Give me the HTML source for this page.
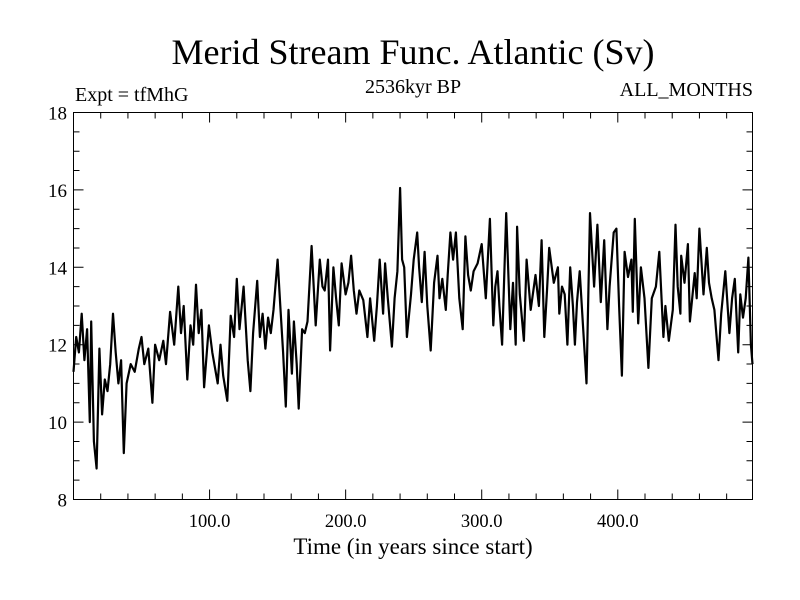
<!DOCTYPE html>
<html><head><meta charset="utf-8"><style>
body{margin:0;background:#fff;}
svg{display:block;font-family:"Liberation Serif",serif;}
</style></head><body>
<svg id="c" width="800" height="600">
<rect width="800" height="600" fill="#fff"/>
<text x="413" y="64" font-size="36" text-anchor="middle">Merid Stream Func. Atlantic (Sv)</text>
<text x="75" y="101" font-size="20">Expt = tfMhG</text>
<text x="413" y="93" font-size="20" text-anchor="middle">2536kyr BP</text>
<text x="753" y="96" font-size="20" text-anchor="end">ALL_MONTHS</text>
<text x="413" y="554" font-size="23" text-anchor="middle">Time (in years since start)</text>
<g id="ax"></g>
<g id="series"></g>
</svg>
<script>
const years=[0,2,4,6,8,10,12,13,15,17,19,21,23,25,27,29,31,33,35,37,39,42,45,48,50,52,55,58,60,63,66,68,71,74,77,79,81,83.6,86,88,90,92,94,96,99.5,102,106,108,110,113,115.5,118,120,122,125,128,130,132,135,137,139,141,143,145,147,150,152,154,156,158,160.5,162,164,165.5,168,170,172,175,178,181,183,184.6,187,188.6,191,193,195,197,200,202,204,206,208,210,213,216,218,221,223,225,227.5,229,231,234,236,238,240,241.5,243,245,248,250,252.6,254,256,258,260,262.5,265,267.5,269,271,273.6,275,277,279,281,283.5,286,288,290,292,294,297,300,303,306,308.5,310,311.6,313,315,318,321,323,325,326,328,331,333,336,339.5,342,344,346,348,349.6,353,356,357,359,361,363,365,367,368.5,370,372,374.6,377,379.6,382.6,385,387.5,390,392.4,394,397,399,401,403,405,407.5,410,411,412.5,415,417,419.6,422.5,425,428,430.5,433.5,435,437.5,440.4,442.4,444,446,446.6,449,451.5,453,456.5,458,460,463,465.4,467,469,471,474,476,479,482,484,486,488.5,490,492,494,496,497.8,499];
const values=[11.3,12.2,11.8,12.8,11.6,12.4,10.0,12.6,9.5,8.8,11.9,10.2,11.1,10.8,11.5,12.8,11.8,11.0,11.6,9.2,11.0,11.5,11.3,11.9,12.2,11.5,11.9,10.5,12.0,11.6,12.1,11.5,12.85,12.0,13.5,12.3,13.0,11.1,12.5,12.0,13.55,12.3,12.9,10.9,12.5,11.8,11.0,12.0,11.2,10.55,12.75,12.2,13.7,12.4,13.5,11.6,10.8,12.3,13.65,12.2,12.8,11.9,12.7,12.3,12.9,14.2,13.0,11.8,10.4,12.9,11.25,12.6,11.5,10.35,12.4,12.3,12.6,14.55,12.5,14.2,13.5,13.4,14.2,11.85,14.0,13.2,12.5,14.1,13.3,13.6,14.3,13.4,12.8,13.4,13.15,12.2,13.2,12.1,13.0,14.2,12.8,14.1,13.2,11.95,13.2,13.9,16.05,14.2,14.0,12.2,13.3,14.2,14.9,14.0,13.1,14.4,13.0,11.85,13.6,14.3,13.2,13.7,12.9,13.8,14.9,14.2,14.9,13.2,12.4,14.8,13.8,13.4,13.9,14.1,14.6,13.2,15.25,12.5,13.5,13.9,13.0,12.0,15.4,12.4,13.6,12.0,15.05,13.3,12.1,14.2,12.9,13.8,13.0,14.7,12.2,13.4,14.5,13.6,14.0,12.8,13.5,13.3,12.0,14.0,13.0,12.0,13.1,13.9,12.4,11.0,15.4,13.5,15.1,13.1,14.7,12.4,13.5,14.9,15.0,13.0,11.2,14.4,13.75,14.2,12.85,15.25,12.55,14.0,13.2,11.4,13.2,13.5,14.4,12.2,13.0,12.1,12.9,15.1,13.5,12.8,14.3,13.6,14.6,12.6,13.85,13.2,15.0,13.3,14.5,13.6,13.2,12.9,11.6,12.8,13.9,12.3,13.2,13.7,11.8,13.3,12.7,13.2,14.25,12.0,11.5];
const yTicks=[8,10,12,14,16,18];
const xTicks=[100,200,300,400];
const xTickLabels=["100.0","200.0","300.0","400.0"];
const X0=73.5,X1=752.5,Y0=499.5,Y1=112.5,XMIN=0,XMAX=499,YMIN=8,YMAX=18;
const sx=v=>X0+(v-XMIN)/(XMAX-XMIN)*(X1-X0);
const sy=v=>Y0-(v-YMIN)/(YMAX-YMIN)*(Y0-Y1);
const NS='http://www.w3.org/2000/svg';
const ax=document.getElementById('ax');
function mk(t,a,p){const e=document.createElementNS(NS,t);for(const k in a)e.setAttribute(k,a[k]);p.appendChild(e);return e;}
const frame=mk('rect',{x:X0,y:Y1,width:X1-X0,height:Y0-Y1,fill:'none',stroke:'#000','stroke-width':1},ax);


let d='';
for(let v=8;v<=18.001;v+=0.5){const y=sy(v);const L=(Math.abs(v%2)<1e-6)?10:6;d+=`M${X0} ${y}h${L}M${X1} ${y}h${-L}`;}
for(let v=20;v<XMAX;v+=20){const x=sx(v);const L=(v%100===0)?10:6;d+=`M${x} ${Y0}v${-L}M${x} ${Y1}v${L}`;}
const tk=mk('path',{d:d,stroke:'#000','stroke-width':1,fill:'none'},ax);


yTicks.forEach(v=>{const t=mk('text',{x:67,y:sy(v)+7,'font-size':19,'text-anchor':'end'},ax);t.textContent=v;

});
xTicks.forEach((v,i)=>{const t=mk('text',{x:sx(v),y:527,'font-size':18.5,'text-anchor':'middle'},ax);t.textContent=xTickLabels[i];

});
const pts=years.map((y,i)=>sx(y).toFixed(1)+','+sy(values[i]).toFixed(1)).join(' ');
const line=mk('polyline',{points:pts,fill:'none',stroke:'#000','stroke-width':2.2,'stroke-linejoin':'round'},document.getElementById('series'));


</script>
</body></html>
